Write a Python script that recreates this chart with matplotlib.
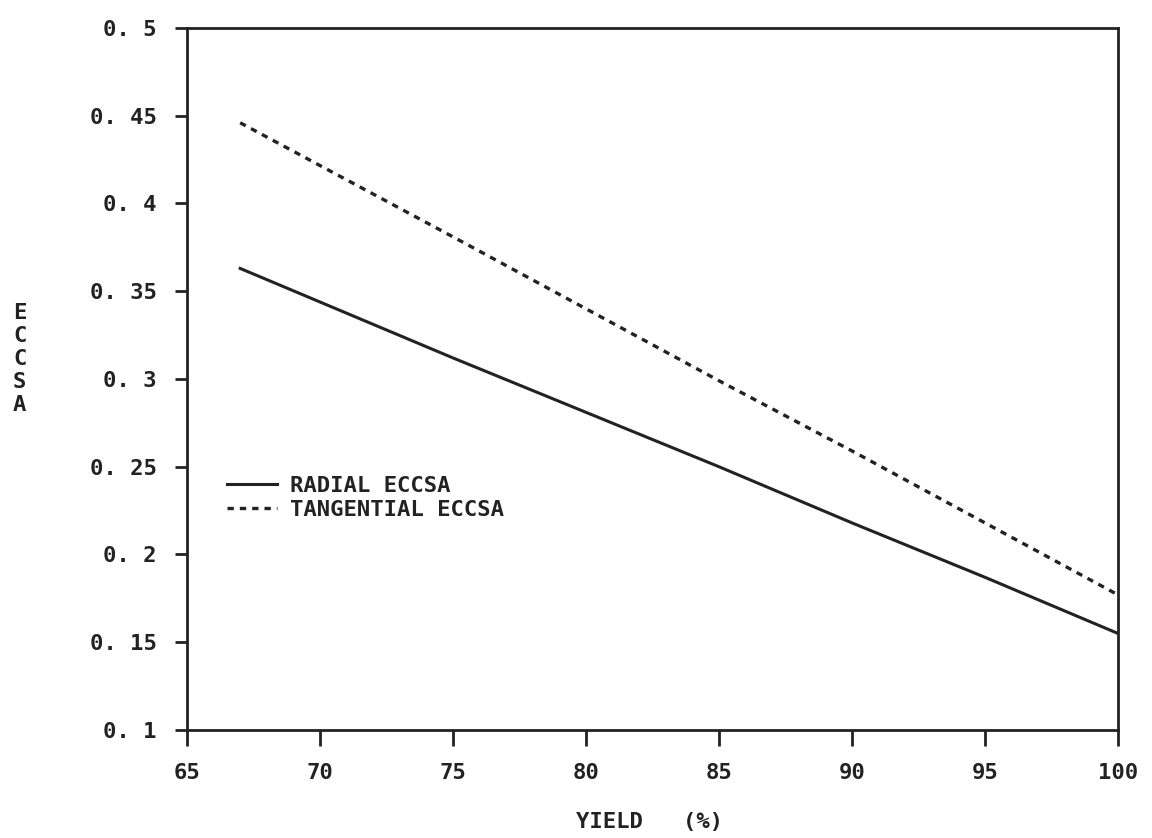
import matplotlib
matplotlib.use("Agg")
import matplotlib.pyplot as plt

# values
yield_pct = [67, 75, 80, 85, 90, 95, 100]
radial = [0.363, 0.312, 0.281, 0.250, 0.218, 0.187, 0.155]
tangential = [0.446, 0.381, 0.340, 0.299, 0.259, 0.218, 0.177]

x_ticks = [65, 70, 75, 80, 85, 90, 95, 100]
y_ticks = [0.1, 0.15, 0.2, 0.25, 0.3, 0.35, 0.4, 0.45, 0.5]
y_ticklabels = ["0. 1", "0. 15", "0. 2", "0. 25", "0. 3", "0. 35", "0. 4", "0. 45", "0. 5"]

ink = "#222222"
plt.rcParams["font.family"] = ["DejaVu Sans Mono", "DejaVu Sans"]
plt.rcParams["font.weight"] = "bold"

fig = plt.figure(figsize=(11.52, 8.38), dpi=100)
ax = fig.add_axes([0.1623, 0.1289, 0.8082, 0.8377])

ax.plot(yield_pct, radial, color=ink, lw=2.2, label="RADIAL ECCSA")
ax.plot(yield_pct, tangential, color=ink, lw=2.4, linestyle=(0, (1.9, 1.8)),
        label="TANGENTIAL ECCSA")

ax.set_xlim(65, 100)
ax.set_ylim(0.1, 0.5)
ax.set_xticks(x_ticks)
ax.set_xticklabels([str(v) for v in x_ticks])
ax.set_yticks(y_ticks)
ax.set_yticklabels(y_ticklabels)

for s in ax.spines.values():
    s.set_linewidth(2.0)
    s.set_color(ink)

ax.tick_params(axis="x", direction="out", length=11.5, width=2, pad=12,
               labelsize=16, colors=ink)
ax.tick_params(axis="y", direction="out", length=8.6, width=2, pad=13,
               labelsize=16, colors=ink)

leg = ax.legend(loc="upper left", bbox_to_anchor=(0.043, 0.362), frameon=False,
                fontsize=16, handlelength=2.25, handletextpad=0.6,
                labelspacing=0.18, borderpad=0, borderaxespad=0)
for t in leg.get_texts():
    t.set_color(ink)

fig.text(0.564, 0.019, "YIELD   (%)", ha="center", va="center",
         fontsize=16, color=ink)
fig.text(0.017, 0.5716, "E\nC\nC\nS\nA", ha="center", va="center",
         fontsize=16, color=ink, linespacing=1.2)

fig.savefig("out.png", dpi=100)
